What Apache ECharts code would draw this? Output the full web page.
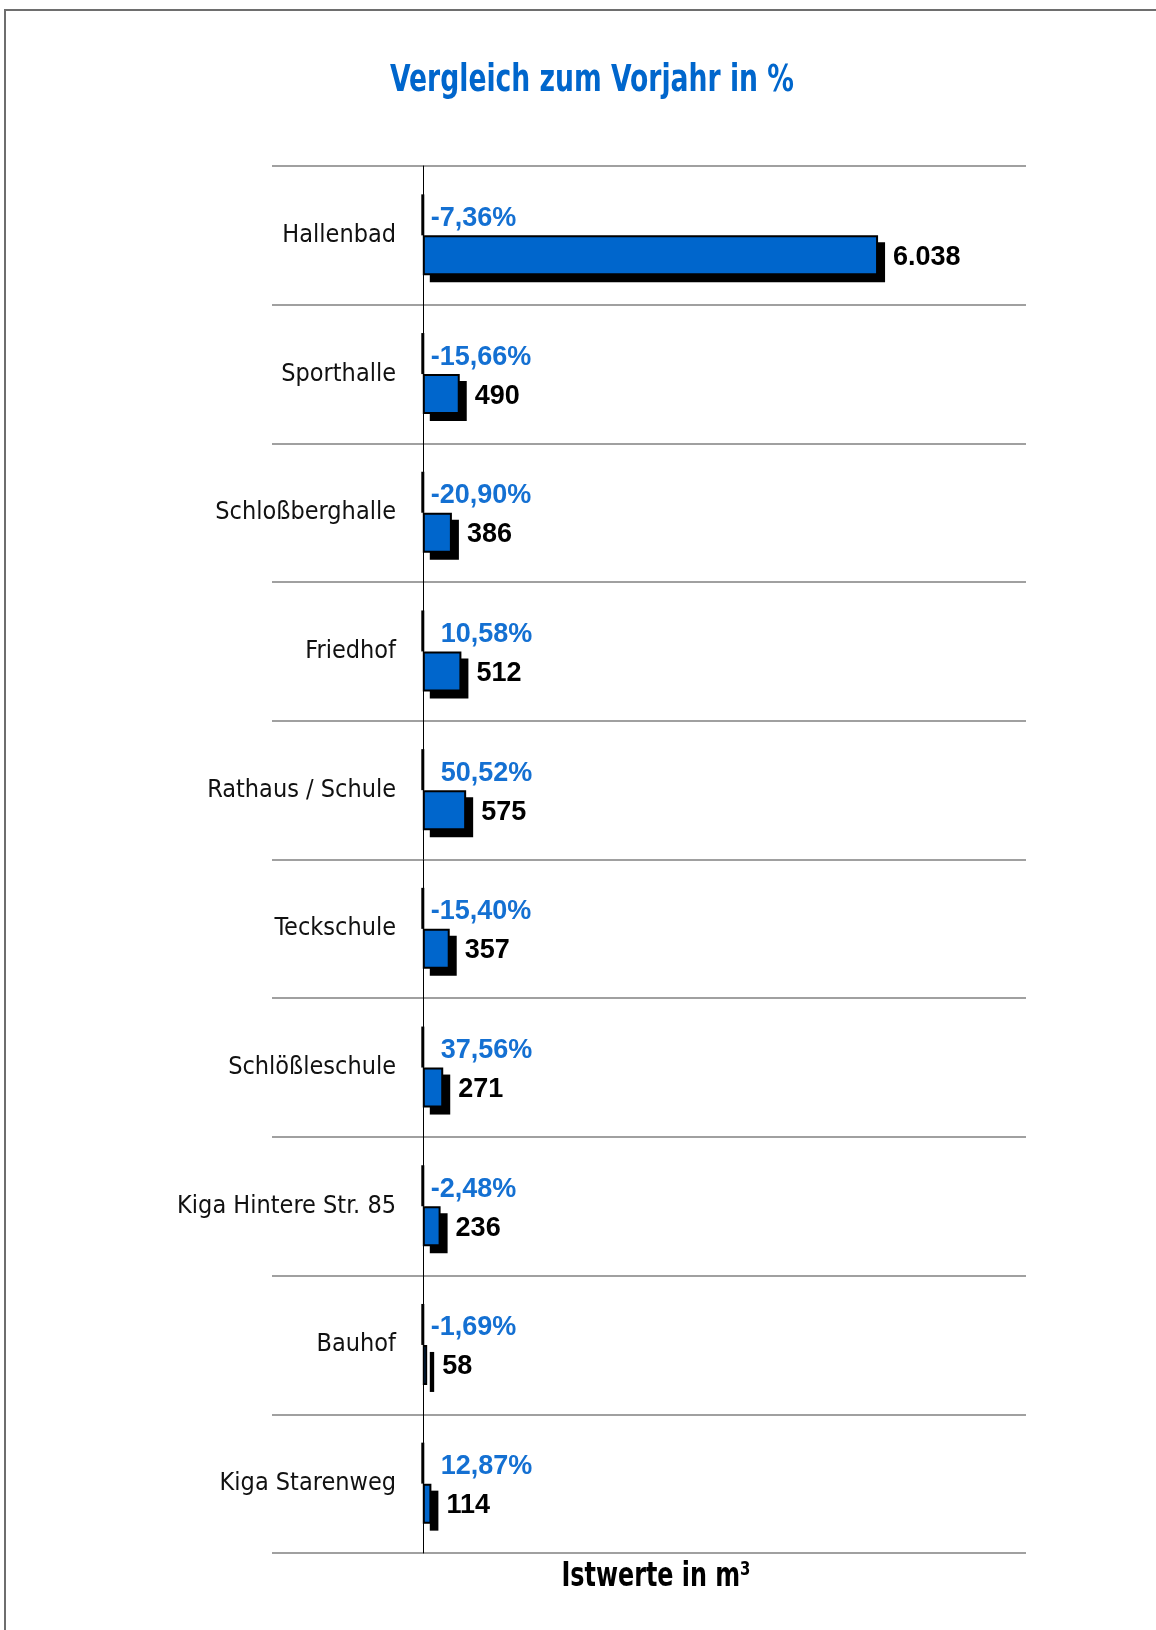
<!DOCTYPE html>
<html>
<head>
<meta charset="utf-8">
<script src="https://cdn.jsdelivr.net/npm/echarts@6/dist/echarts.min.js"></script>
<style>
html,body{margin:0;padding:0;background:#fff;}
#chart{width:1156px;height:1630px;}
</style>
</head>
<body>
<div id="chart"></div>
<script>
const categories = ['Hallenbad','Sporthalle','Schloßberghalle','Friedhof','Rathaus / Schule','Teckschule','Schlößleschule','Kiga Hintere Str. 85','Bauhof','Kiga Starenweg'];
const values = [6038, 490, 386, 512, 575, 357, 271, 236, 58, 114];
const changes = [-7.36, -15.66, -20.90, 10.58, 50.52, -15.40, 37.56, -2.48, -1.69, 12.87];
const titleText = 'Vergleich zum Vorjahr in %';
const axisTitle = 'Istwerte in m³';

const BLUE = '#0066cc';
const NARROW = "'Liberation Sans Narrow', 'DejaVu Sans Condensed', sans-serif";
const BOLD = "'Liberation Sans', 'DejaVu Sans', sans-serif";
const BAR_W = 40;

function fmtVal(v){ return String(v).replace(/\B(?=(\d{3})+(?!\d))/g, '.'); }
function fmtPct(p){ return (p < 0 ? '-' : '') + Math.abs(p).toFixed(2).replace('.', ',') + '%'; }

const chart = echarts.init(document.getElementById('chart'), null, {renderer:'canvas'});
chart.setOption({
  animation: false,
  backgroundColor: '#fff',
  grid: {left: 272, right: 130, top: 166, bottom: 77, containLabel: false},
  xAxis: {
    type: 'value', min: -2000, max: 8000, show: false
  },
  yAxis: {
    type: 'category', data: categories, inverse: true,
    axisLine: {show: true, onZero: true, lineStyle: {color: '#000', width: 1}},
    axisTick: {show: false},
    axisLabel: {margin: -124, fontFamily: NARROW, fontSize: 25, color: '#111'},
    splitLine: {show: true, lineStyle: {color: '#808080', width: 1.5}}
  },
  graphic: [
    {type:'rect', shape:{x:5, y:10, width:1300, height:1800}, style:{fill:'none', stroke:'#6e6e6e', lineWidth:2}, silent:true},
    {type:'text', x:592, y:81, scaleX: 0.8, style:{text: titleText, fill: BLUE, font: 'bold 37px ' + NARROW, align:'center', verticalAlign:'middle'}},
    {type:'text', x:656, y:1577, scaleX: 0.78, style:{text: axisTitle, fill: '#000', font: 'bold 34px ' + NARROW, align:'center', verticalAlign:'middle'}}
  ],
  series: [
    {
      name: 'spacer', type: 'bar', data: [], barWidth: BAR_W, barGap: '0%'
    },
    {
      name: 'Istwerte', type: 'bar', data: values, barWidth: BAR_W, barGap: '0%', z: 3,
      itemStyle: {color: BLUE, borderColor: '#000', borderWidth: 2},
      label: {show: true, position: 'right', distance: 15, offset: [0, 2], formatter: p => fmtVal(p.value),
              fontFamily: BOLD, fontWeight: 'bold', fontSize: 27, color: '#000'}
    },
    {
      name: 'Veränderung', type: 'custom', clip: false, z: 2,
      data: categories.map((c, i) => [i, changes[i], values[i]]),
      encode: {y: 0},
      renderItem: function(params, api){
        const idx = api.value(0);
        const pct = api.value(1);
        const val = api.value(2);
        const p = api.coord([0, idx]);
        const e = api.coord([val, idx]);
        return {type: 'group', children: [
          {type: 'rect', shape: {x: p[0] + 7, y: p[1] + 7, width: e[0] - p[0], height: BAR_W}, style: {fill: '#000'}},
          {type: 'rect', shape: {x: p[0] - 1.5, y: p[1] - 41, width: 3, height: 41}, style: {fill: '#000'}},
          {type: 'text', x: p[0] + (pct < 0 ? 8 : 18), y: p[1] - 17,
           style: {text: fmtPct(pct), fill: '#1470d2', font: 'bold 27px ' + BOLD, verticalAlign: 'middle', align: 'left'}}
        ]};
      }
    }
  ]
});
</script>
</body>
</html>
